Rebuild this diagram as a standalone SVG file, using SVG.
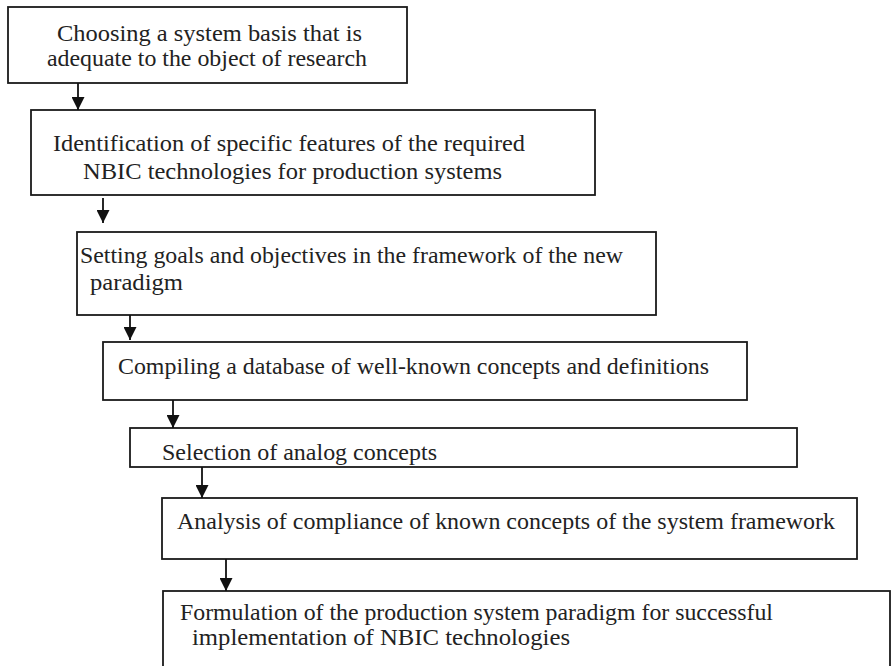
<svg xmlns="http://www.w3.org/2000/svg" width="893" height="666" viewBox="0 0 893 666">
<style>
.box{fill:#fff;stroke:#1a1a1a;stroke-width:1.8}
.t{font-family:'Liberation Serif','Times New Roman',Times,serif;font-size:24px;fill:#222}
.c{stroke:#111;stroke-width:1.8;fill:none}
</style>
<defs>
<marker id="ah" viewBox="0 0 12 12" refX="12" refY="6" markerWidth="13" markerHeight="13" markerUnits="userSpaceOnUse" orient="auto">
<path d="M0,0 L12,6 L0,12 Z" fill="#111"/>
</marker>
</defs>
<rect width="893" height="666" fill="#fff"/>
<g id="node1">
<rect class="box" x="8" y="7" width="399" height="76"/>
<text class="t" x="57" y="41" textLength="305" lengthAdjust="spacingAndGlyphs">Choosing a system basis that is</text>
<text class="t" x="47" y="66" textLength="320" lengthAdjust="spacingAndGlyphs">adequate to the object of research</text>
</g>
<g id="node2">
<rect class="box" x="31" y="110" width="564" height="85"/>
<text class="t" x="53" y="151" textLength="472" lengthAdjust="spacingAndGlyphs">Identification of specific features of the required</text>
<text class="t" x="83" y="179" textLength="419" lengthAdjust="spacingAndGlyphs">NBIC technologies for production systems</text>
</g>
<g id="node3">
<rect class="box" x="77" y="232" width="579" height="83"/>
<text class="t" x="80" y="263" textLength="543" lengthAdjust="spacingAndGlyphs">Setting goals and objectives in the framework of the new</text>
<text class="t" x="90" y="290" textLength="93" lengthAdjust="spacingAndGlyphs">paradigm</text>
</g>
<g id="node4">
<rect class="box" x="103" y="342" width="644" height="58"/>
<text class="t" x="118" y="374" textLength="591" lengthAdjust="spacingAndGlyphs">Compiling a database of well-known concepts and definitions</text>
</g>
<g id="node5">
<rect class="box" x="130" y="428" width="667" height="39"/>
<text class="t" x="162" y="460" textLength="275" lengthAdjust="spacingAndGlyphs">Selection of analog concepts</text>
</g>
<g id="node6">
<rect class="box" x="162" y="498" width="695" height="61"/>
<text class="t" x="177" y="529" textLength="658" lengthAdjust="spacingAndGlyphs">Analysis of compliance of known concepts of the system framework</text>
</g>
<g id="node7">
<rect class="box" x="163" y="591" width="727" height="100"/>
<text class="t" x="180" y="620" textLength="593" lengthAdjust="spacingAndGlyphs">Formulation of the production system paradigm for successful</text>
<text class="t" x="192" y="645" textLength="378" lengthAdjust="spacingAndGlyphs">implementation of NBIC technologies</text>
</g>
<g id="connectors">
<line class="c" x1="78" y1="83" x2="78" y2="110" marker-end="url(#ah)"/>
<line class="c" x1="103" y1="198" x2="103" y2="223" marker-end="url(#ah)"/>
<line class="c" x1="130" y1="315" x2="130" y2="340" marker-end="url(#ah)"/>
<line class="c" x1="173" y1="400" x2="173" y2="428" marker-end="url(#ah)"/>
<line class="c" x1="202" y1="467" x2="202" y2="498" marker-end="url(#ah)"/>
<line class="c" x1="226" y1="559" x2="226" y2="591" marker-end="url(#ah)"/>
</g>
</svg>
